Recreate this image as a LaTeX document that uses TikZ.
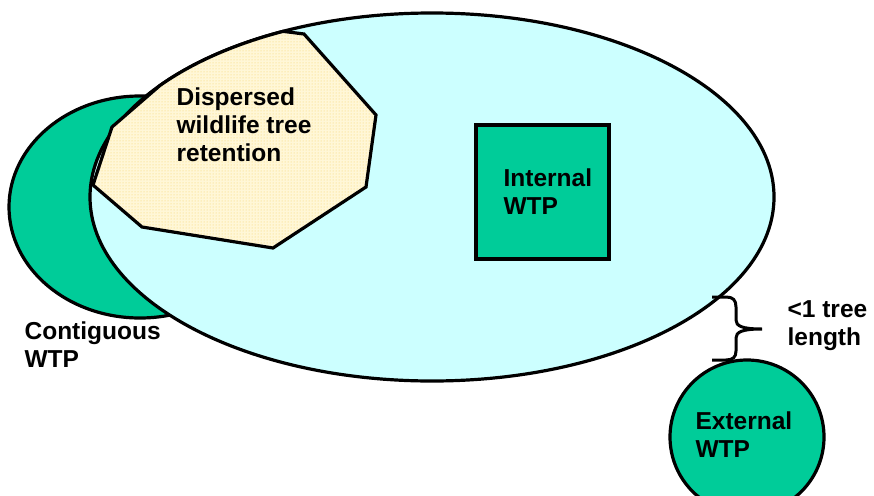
\documentclass[tikz,border=0pt]{standalone}
\usepackage{fontspec}
\setmainfont{Liberation Sans}
\usepackage{xcolor}
\usepackage{tikz}
\usetikzlibrary{patterns}

\definecolor{wtpgreen}{RGB}{0,204,153}
\definecolor{blockcyan}{RGB}{204,255,255}
\definecolor{creamfill}{RGB}{255,247,215}
\definecolor{dotyellow}{RGB}{245,210,100}
\tikzset{lbl/.style={anchor=base west, inner sep=0pt, align=left, font=\bfseries\fontsize{24.5}{28}\selectfont}}

\begin{document}
\begin{tikzpicture}[x=1pt,y=1pt,line width=3.2pt]
    \def\bx{342}
    \def\by{184}
    \useasboundingbox (0,0) rectangle (874,-495);
    \clip (0,0) rectangle (874,-495);
    \coordinate (G) at (140,-207); %contiguous wtp%
    \coordinate (B) at (432,-197); %cut block%
    \coordinate (E) at (747,-437); %external wtp%

    \draw[fill=wtpgreen, draw=black] (G) ellipse [x radius=131, y radius=111];
    \draw[fill=blockcyan, draw=black] (B) ellipse [x radius=\bx, y radius=\by];

    %dispersed retention, top edge runs along the block%
    \draw[preaction={fill=creamfill}, pattern=dots, pattern color=dotyellow, draw=black]
      (93,-185) -- (112,-127) -- ([shift={(B)}]142.7:{\bx} and {\by})
      arc[start angle=142.7, end angle=115.8, x radius=\bx, y radius=\by]
      -- (304,-34) -- (376,-115) -- (366,-187) -- (273,-248) -- (142,-227) -- cycle;

    \draw[fill=wtpgreen, draw=black] (476,-125) rectangle (609,-259); %internal wtp%
    \draw[fill=wtpgreen, draw=black] (E) circle [radius=77];

    %brace, less than one tree length%
    \draw[line width=3pt] (712,-297) -- (726,-297) .. controls (733,-297) and (736,-300) .. (736,-307)
      -- (736,-320) .. controls (736,-326) and (742,-329) .. (762,-329)
      .. controls (742,-329) and (736,-332) .. (736,-338)
      -- (736,-351) .. controls (736,-357) and (733,-360) .. (726,-360) -- (712,-360);

    %labels sit on the baseline of their last line%
    \node[lbl] (disp) at (175,-161) {Dispersed\\wildlife tree\\retention};
    \node[lbl] (intl) at (502,-214) {Internal\\WTP};
    \node[lbl] (cont) at (23,-367) {Contiguous\\WTP};
    \node[lbl] (gap) at (786,-345) {<1 tree\\length};
    \node[lbl] (extl) at (694,-457) {External\\WTP};
\end{tikzpicture}
\end{document}
